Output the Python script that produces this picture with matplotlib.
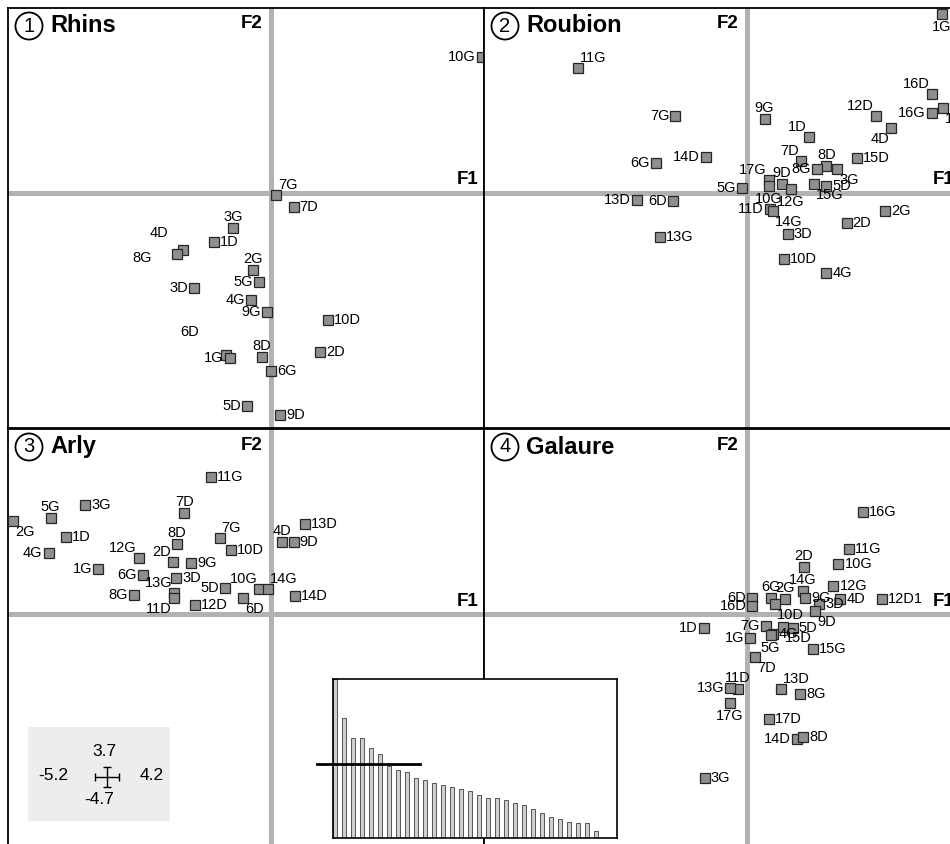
import matplotlib
matplotlib.use('Agg')
import matplotlib.pyplot as plt
from matplotlib.patches import Rectangle

plt.rcParams['font.family'] = ['Liberation Sans', 'DejaVu Sans']

# extent of every factorial plane, as given by the scale cross
F1_MIN, F1_MAX = -5.2, 4.2
F2_MIN, F2_MAX = -4.7, 3.7

# 1 Rhins
rhins_lab = ['10G', '7G', '7D', '3G', '1D', '4D', '8G', '2G', '5G', '3D', '4G', '9G',
             '10D', '6D', '1G', '8D', '2D', '6G', '5D', '9D']
rhins_f1 = [4.16, 0.10, 0.44, -0.76, -1.14, -1.74, -1.86, -0.36, -0.24, -1.52, -0.40, -0.08,
            1.12, -0.90, -0.82, -0.18, 0.96, 0.00, -0.48, 0.18]
rhins_f2 = [2.72, -0.04, -0.28, -0.70, -0.98, -1.14, -1.22, -1.54, -1.78, -1.90, -2.14, -2.38,
            -2.54, -3.24, -3.30, -3.28, -3.18, -3.56, -4.26, -4.44]
rhins_pos = ['l', 'ur', 'r', 'u', 'r', (-24, 17), (-35, -4), 'u', 'l', 'l', 'l', 'l',
             'r', (-36, 23), 'l', 'u', 'r', 'r', 'l', 'r']

# 2 Roubion
roub_lab = ['1G', '11G', '16D', '12D', '16G', '17D', '4D', '9G', '7G', '1D', '7D', '8D',
            '15D', '14D', '6G', '8G', '3G', '17G', '10G', '9D', '12G', '15G', '5D', '5G',
            '11D', '14G', '13D', '6D', '13G', '2G', '2D', '3D', '10D', '4G']
roub_f1 = [3.84, -3.34, 3.64, 2.54, 3.64, 3.86, 2.84, 0.34, -1.42, 1.22, 1.06, 1.56,
           2.16, -0.82, -1.80, 1.38, 1.78, 0.42, 0.42, 0.68, 0.86, 1.32, 1.56, -0.10,
           0.44, 0.50, -2.18, -1.46, -1.72, 2.72, 1.96, 0.80, 0.72, 1.56]
roub_f2 = [3.58, 2.50, 1.98, 1.54, 1.60, 1.70, 1.30, 1.48, 1.54, 1.12, 0.64, 0.54,
           0.70, 0.72, 0.60, 0.48, 0.48, 0.26, 0.14, 0.18, 0.08, 0.18, 0.14, 0.10,
           -0.32, -0.36, -0.14, -0.16, -0.88, -0.36, -0.60, -0.82, -1.32, -1.60]
roub_pos = ['d', 'ur', 'ul', 'ul', 'l', 'dr', 'dl', 'u', 'l', 'ul', 'ul', 'u',
            'r', 'l', 'l', 'l', 'dr', 'ul', 'd', 'u', 'd', 'dr', 'r', 'l',
            'l', 'dr', 'l', 'l', 'r', 'r', 'r', 'r', 'r', 'r']

# 3 Arly
arly_lab = ['11G', '5G', '3G', '7D', '2G', '1D', '13D', '4D', '9D', '8D', '7G', '10D',
            '4G', '12G', '2D', '9G', '1G', '6G', '3D', '10G', '14G', '5D', '13G', '11D',
            '8G', '12D', '6D', '14D']
arly_f1 = [-1.20, -4.36, -3.68, -1.72, -5.10, -4.06, 0.66, 0.22, 0.44, -1.86, -1.02, -0.80,
           -4.40, -2.62, -1.94, -1.58, -3.42, -2.54, -1.88, -0.24, -0.06, -0.92, -1.92, -1.92,
           -2.72, -1.50, -0.56, 0.46]
arly_f2 = [2.74, 1.92, 2.18, 2.02, 1.86, 1.54, 1.80, 1.44, 1.44, 1.40, 1.52, 1.28,
           1.22, 1.12, 1.04, 1.02, 0.90, 0.78, 0.72, 0.50, 0.50, 0.52, 0.42, 0.32,
           0.38, 0.18, 0.32, 0.36]
arly_pos = ['r', 'u', 'r', 'u', 'dr', 'r', 'r', 'u', 'r', 'u', 'ur', 'r',
            'l', 'ul', 'ul', 'r', 'l', 'l', 'r', 'ul', 'ur', 'l', 'ul', 'dl',
            'l', 'r', 'dr', 'r']

# 4 Galaure
gal_lab = ['16G', '11G', '10G', '2D', '14G', '12G', '9G', '4D', '12D1', '6G', '2G', '6D',
           '16D', '10D', '3D', '9D', '5D', '15D', '7G', '4G', '5G', '1G', '15G', '7D',
           '1D', '11D', '13G', '17G', '13D', '8G', '17D', '14D', '8D', '3G']
gal_f1 = [2.28, 2.00, 1.80, 1.12, 1.10, 1.70, 1.14, 1.84, 2.66, 0.46, 0.74, 0.10,
          0.10, 0.54, 1.42, 1.34, 0.90, 0.70, 0.36, 0.50, 0.46, 0.06, 1.30, 0.16,
          -0.86, -0.18, -0.34, -0.34, 0.66, 1.04, 0.42, 0.98, 1.10, -0.84]
gal_f2 = [2.04, 1.30, 1.00, 0.94, 0.46, 0.56, 0.32, 0.30, 0.30, 0.32, 0.30, 0.32,
          0.16, 0.20, 0.20, 0.06, -0.28, -0.26, -0.24, -0.40, -0.42, -0.48, -0.70, -0.86,
          -0.28, -1.50, -1.48, -1.78, -1.50, -1.60, -2.10, -2.50, -2.46, -3.28]
gal_pos = ['r', 'r', 'r', 'u', 'u', 'r', 'r', 'r', 'r', 'u', 'u', 'l',
           'l', 'dr', 'r', 'dr', 'r', 'dr', 'l', 'r', 'd', 'l', 'r', 'dr',
           'l', 'u', 'l', 'd', 'ur', 'r', 'r', 'l', 'r', 'r']

# eigenvalue histogram (inset) and its threshold line
eig_vals = [477, 360, 300, 300, 270, 252, 215, 205, 198, 180, 175, 165, 158, 154, 148,
            140, 128, 120, 120, 114, 105, 100, 87, 75, 62, 57, 49, 44, 44, 22]
eig_line = 222

W, H = 950, 844
OFF = {'r': (6, 0, 'left', 'center'), 'l': (-6, 0, 'right', 'center'),
       'u': (0, 7, 'center', 'baseline'), 'd': (0, -6, 'center', 'top'),
       'ur': (2, 6, 'left', 'baseline'), 'ul': (-2, 6, 'right', 'baseline'),
       'dr': (2, -4, 'left', 'top'), 'dl': (-2, -4, 'right', 'top')}


def fig_rect(x, y, w, h):
    return [x / W, 1 - (y + h) / H, w / W, h / H]


fig = plt.figure(figsize=(9.5, 8.44), dpi=100)

panels = [
    (fig_rect(8, 8, 476, 420), '1', 'Rhins', rhins_lab, rhins_f1, rhins_f2, rhins_pos),
    (fig_rect(484, 8, 476, 420), '2', 'Roubion', roub_lab, roub_f1, roub_f2, roub_pos),
    (fig_rect(8, 429, 476, 420), '3', 'Arly', arly_lab, arly_f1, arly_f2, arly_pos),
    (fig_rect(484, 429, 476, 420), '4', 'Galaure', gal_lab, gal_f1, gal_f2, gal_pos),
]

for rect, num, name, lab, f1, f2, pos in panels:
    ax = fig.add_axes(rect)
    ax.set_xlim(F1_MIN, F1_MAX)
    ax.set_ylim(F2_MIN, F2_MAX)
    ax.set_xticks([])
    ax.set_yticks([])
    for s in ax.spines.values():
        s.set_linewidth(1.3)
        s.set_color('black')
    ax.axhline(0, color='#b2b2b2', lw=3.6, zorder=1)
    ax.axvline(0, color='#b2b2b2', lw=3.6, zorder=1)
    ax.plot(f1, f2, 's', ms=7.3, mfc='#8f8f8f', mec='#262626', mew=0.9, zorder=3,
            clip_on=False)
    for t, x, y, p in zip(lab, f1, f2, pos):
        if isinstance(p, tuple):
            dx, dy, ha, va = p[0], p[1], 'center', 'center'
        else:
            dx, dy, ha, va = OFF[p]
        ax.annotate(t, (x, y), xytext=(dx, dy), textcoords='offset pixels',
                    ha=ha, va=va, fontsize=10.5, zorder=4)
    ax.annotate('F2', (0, F2_MAX), xytext=(-9, -16), textcoords='offset pixels',
                ha='right', va='center', fontsize=13.5, fontweight='bold')
    ax.annotate('F1', (F1_MAX, 0), xytext=(-6, 13), textcoords='offset pixels',
                ha='right', va='center', fontsize=13.5, fontweight='bold')
    ax.annotate(num, (F1_MIN, F2_MAX), xytext=(21, -18), textcoords='offset pixels',
                ha='center', va='center', fontsize=14.5,
                bbox=dict(boxstyle='circle,pad=0.2', fc='white', ec='black', lw=1.3))
    ax.annotate(name, (F1_MIN, F2_MAX), xytext=(42, -18), textcoords='offset pixels',
                ha='left', va='center', fontsize=17, fontweight='bold')

# scale cross, drawn in pixel space
ov = fig.add_axes([0, 0, 1, 1], facecolor='none')
ov.set_xlim(0, W)
ov.set_ylim(H, 0)
ov.axis('off')
ov.add_patch(Rectangle((28, 727), 142, 94, fc='#ededed', ec='none', zorder=1))
ov.errorbar([107], [777], xerr=[12], yerr=[10], fmt='none', ecolor='black',
            elinewidth=1.0, capsize=3, capthick=1.0, zorder=2)
ov.text(104, 752, f'{F2_MAX}', ha='center', va='center', fontsize=12.5)
ov.text(99, 800, f'{F2_MIN}', ha='center', va='center', fontsize=12.5)
ov.text(53, 775, f'{F1_MIN}', ha='center', va='center', fontsize=12.5)
ov.text(152, 775, f'{F1_MAX}', ha='center', va='center', fontsize=12.5)

# eigenvalue inset
ins = fig.add_axes(fig_rect(333, 679, 284, 159))
ins.set_zorder(10)
ins.set_facecolor('white')
idx = list(range(len(eig_vals)))
ins.bar(idx, eig_vals, width=0.45, color='#cfcfcf', edgecolor='#555555', lw=0.7)
ins.set_xlim(-0.25, 31.3)
ins.set_ylim(0, max(eig_vals))
ins.set_xticks([])
ins.set_yticks([])
for s in ins.spines.values():
    s.set_linewidth(1.2)
ins.plot([-2.0, 9.4], [eig_line, eig_line], color='black', lw=2, clip_on=False)

fig.savefig('out.png', dpi=100)
